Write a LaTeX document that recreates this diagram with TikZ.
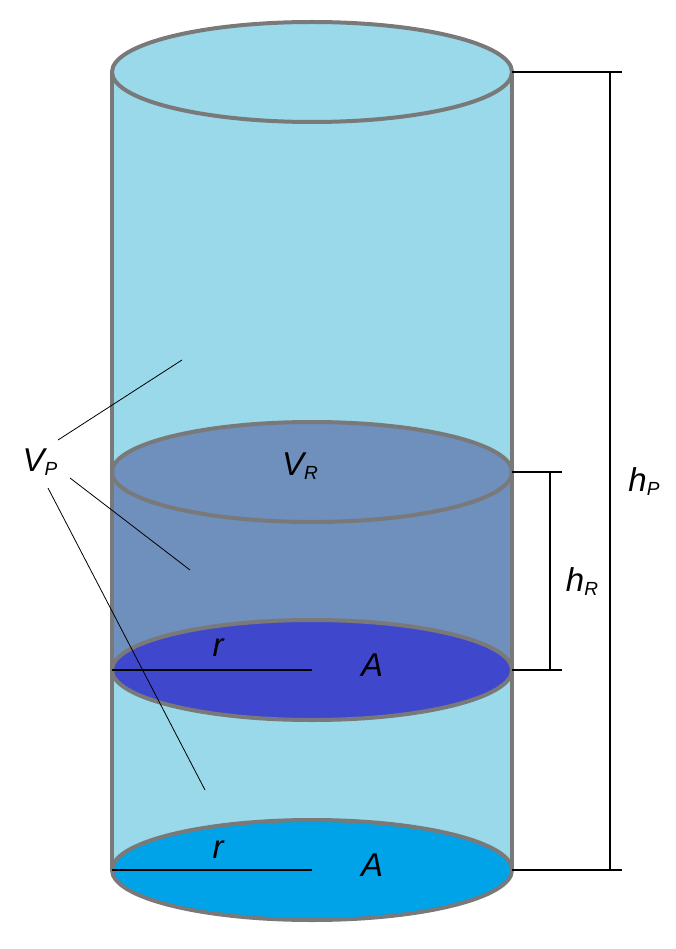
\documentclass[tikz,border=0pt]{standalone}
\usepackage{fontspec}
\setmainfont{Liberation Sans}
\begin{document}
\begin{tikzpicture}[x=1pt,y=-1pt,
  rim/.style={draw=gray!95!black,line width=4pt},
  lbl/.style={font=\fontsize{33}{35}\selectfont\itshape,inner sep=0pt},
  dim/.style={draw=black,line width=2pt},
  thin/.style={draw=black,line width=0.8pt}]
\definecolor{light}{HTML}{99D9EA}
\definecolor{mid}{HTML}{6F8FBD}
\definecolor{dark}{HTML}{3F48CC}
\definecolor{bot}{HTML}{00A2E8}
\useasboundingbox (0,0) rectangle (675,949);
% body
\fill[light] (112,72) rectangle (512,870);
\fill[light] (112,870) arc[start angle=180,end angle=360,x radius=200,y radius=50];
\fill[bot] (312,870) ellipse[x radius=200,y radius=50];
\draw[rim] (312,870) ellipse[x radius=200,y radius=50];
\fill[mid] (112,472) rectangle (512,670);
\fill[dark] (312,670) ellipse[x radius=200,y radius=50];
\draw[rim] (312,670) ellipse[x radius=200,y radius=50];
\fill[mid] (312,472) ellipse[x radius=200,y radius=50];
\draw[rim] (312,472) ellipse[x radius=200,y radius=50];
\fill[light] (312,72) ellipse[x radius=200,y radius=50];
\draw[rim] (312,72) ellipse[x radius=200,y radius=50];
\draw[rim] (112,72) -- (112,870);
\draw[rim] (512,72) -- (512,870);
% radius lines
\coordinate (c1) at (312,670); \coordinate (e1) at (112,670);
\coordinate (c2) at (312,870); \coordinate (e2) at (112,870);
\draw[dim] (e1) -- (c1);
\draw[dim] (e2) -- (c2);
\node[lbl] (r1) at (218,648) {r};
\node[lbl] (a1) at (372,665) {A};
\node[lbl] (r2) at (218,850) {r};
\node[lbl] (a2) at (372,865) {A};
\node[lbl] (vr) at (300,466) {V\raisebox{-4pt}{\fontsize{19}{19}\selectfont R}};
% dimensions
\coordinate (p1) at (512,72); \coordinate (p2) at (622,72);
\coordinate (p3) at (512,870); \coordinate (p4) at (622,870);
\draw[dim] (p1) -- (p2) (p3) -- (p4) (610,72) -- (610,870);
\coordinate (q1) at (512,472); \coordinate (q2) at (562,472);
\coordinate (q3) at (512,670); \coordinate (q4) at (562,670);
\draw[dim] (q1) -- (q2) (q3) -- (q4) (550,472) -- (550,670);
\node[lbl] (hp) at (644,482) {h\raisebox{-4pt}{\fontsize{19}{19}\selectfont P}};
\node[lbl] (hr) at (582,582) {h\raisebox{-4pt}{\fontsize{19}{19}\selectfont R}};
% V_P
\node[lbl] (vp) at (40,462) {V\raisebox{-4pt}{\fontsize{19}{19}\selectfont P}};
\coordinate (t1) at (182,360); \coordinate (t2) at (190,570); \coordinate (t3) at (205,790);
\draw[thin] (58,440) -- (t1);
\draw[thin] (70,478) -- (t2);
\draw[thin] (48,488) -- (t3);
\end{tikzpicture}
\end{document}
